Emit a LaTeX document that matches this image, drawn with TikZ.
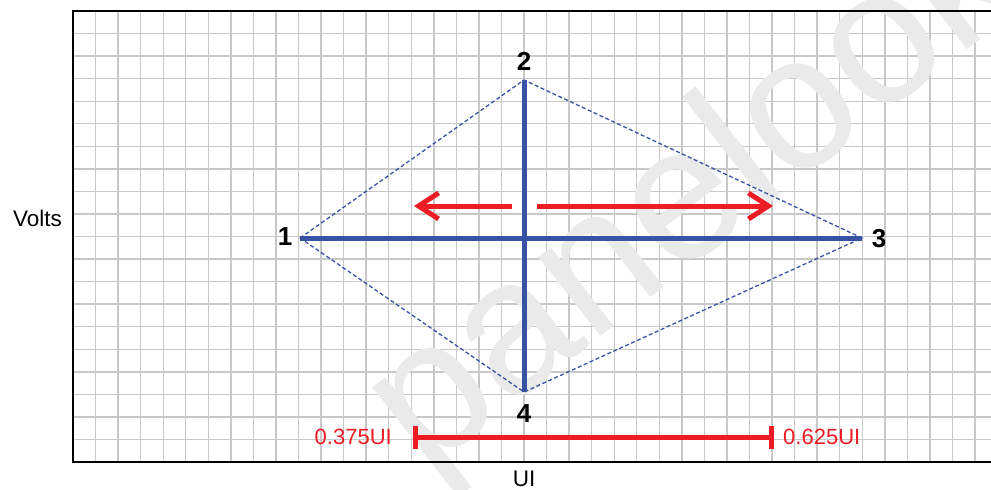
\documentclass[tikz,border=0pt]{standalone}
\usepackage{fontspec}
\setmainfont{Liberation Sans}
\usetikzlibrary{arrows.meta}
\definecolor{gridgray}{RGB}{200,200,200}
\definecolor{myblue}{RGB}{57,83,164}
\definecolor{myred}{RGB}{237,28,36}
\definecolor{wmgray}{RGB}{234,234,234}
\tikzset{
  gridline/.style={draw=gridgray, line width=1.4pt},
  frame/.style={draw=black, line width=1.8pt},
  thinblue/.style={draw=myblue, line width=1.3pt, dash pattern=on 4pt off 2.5pt},
  thickblue/.style={draw=myblue, line width=5pt},
  redarrow/.style={draw=myred, line width=5pt, -{Straight Barb[length=20pt, width=26pt]}},
  measure/.style={draw=myred, line width=5pt, {Bar[width=23pt]}-{Bar[width=23pt]}},
  ptlabel/.style={inner sep=0pt, font=\fontsize{26}{30}\selectfont\bfseries},
  redlabel/.style={inner sep=0pt, text=myred, font=\fontsize{22}{26}\selectfont},
  axlabel/.style={inner sep=0pt, font=\fontsize{22.5}{26}\selectfont},
  watermark/.style={inner sep=0pt, text=wmgray, font=\fontsize{190}{190}\selectfont}
}
\begin{document}
\begin{tikzpicture}[x=1pt, y=-1pt]
\useasboundingbox (0,0) rectangle (991,490);
\fill[white] (0,0) rectangle (991,490);
% grid
\foreach \i in {1,...,40} \draw[gridline] (73+22.55*\i,11) -- (73+22.55*\i,462);
\foreach \j in {1,...,19} \draw[gridline] (73,11+22.55*\j) -- (991,11+22.55*\j);
% watermark
\node[watermark, rotate=38] (wm) at (698,198) {panelook};
% frame
\draw[frame] (991,11) -- (73,11) -- (73,462) -- (991,462);
% points
\coordinate (p1) at (300,238);
\coordinate (p2) at (524,80);
\coordinate (p3) at (862,238);
\coordinate (p4) at (524,392);
\draw[thinblue] (p1) -- (p2) -- (p3) -- (p4) -- cycle;
\draw[thickblue] (p1) -- (p3);
\draw[thickblue] (p2) -- (p4);
\node[ptlabel] (l1) at (285,237) {1};
\node[ptlabel] (l2) at (524,61) {2};
\node[ptlabel] (l3) at (879,239) {3};
\node[ptlabel] (l4) at (524,414) {4};
% red arrows
\coordinate (la) at (512,206);
\coordinate (lb) at (414,206);
\coordinate (ra) at (537,206);
\coordinate (rb) at (773,206);
\draw[redarrow] (la) -- (lb);
\draw[redarrow] (ra) -- (rb);
% measure
\coordinate (m1) at (413,437);
\coordinate (m2) at (774,437);
\draw[measure] (m1) -- (m2);
\node[redlabel, anchor=east] (t1) at (392,437) {0.375UI};
\node[redlabel, anchor=west] (t2) at (783,437) {0.625UI};
% axes labels
\node[axlabel] (volts) at (37.5,218) {Volts};
\node[axlabel] (ui) at (524,479) {UI};
\end{tikzpicture}
\end{document}
